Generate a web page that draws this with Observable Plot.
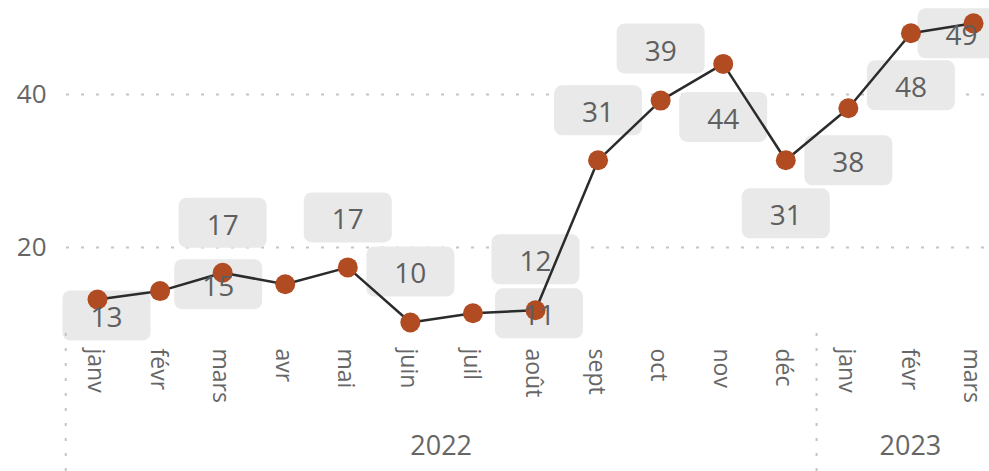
<!DOCTYPE html>
<html><head><meta charset="utf-8">
<script src="https://cdn.jsdelivr.net/npm/d3@7"></script>
<script src="https://cdn.jsdelivr.net/npm/@observablehq/plot@0.6"></script>
<style>html,body{margin:0;padding:0;background:#fff} svg{display:block}</style>
</head><body><div id="chart"></div>
<script>
// ---- data ----
const months = ["janv","févr","mars","avr","mai","juin","juil","août","sept","oct","nov","déc","janv","févr","mars"];
const years  = [2022,2022,2022,2022,2022,2022,2022,2022,2022,2022,2022,2022,2023,2023,2023];
const values = [13.2,14.3,16.7,15.2,17.4,10.2,11.4,11.8,31.4,39.2,44.0,31.4,38.2,48.0,49.3];
const yTicks = [20, 40];

const data = months.map((m, i) => ({i, month: m, year: years[i], value: values[i]}));

// Power BI "auto" label placement (pixel offset of the label box from its point); févr 2022 label hidden
const placement = {0:[9,16], 2:[0,-50], 3:[-67,0], 4:[0,-50], 5:[0,-51], 6:[66,0], 7:[0,-51],
  8:[0,-50], 9:[0,-52], 10:[0,53], 11:[0,53], 12:[0,52], 13:[0,52], 14:[-12,10]};

const W = 88, H = 50, R = 8;
const roundRect = {draw(ctx) {
  const x0=-W/2, y0=-H/2, x1=W/2, y1=H/2;
  ctx.moveTo(x0+R,y0); ctx.lineTo(x1-R,y0); ctx.arcTo(x1,y0,x1,y0+R,R);
  ctx.lineTo(x1,y1-R); ctx.arcTo(x1,y1,x1-R,y1,R);
  ctx.lineTo(x0+R,y1); ctx.arcTo(x0,y1,x0,y1-R,R);
  ctx.lineTo(x0,y0+R); ctx.arcTo(x0,y0,x0+R,y0,R); ctx.closePath();
}};

const labelData = data.filter(d => placement[d.i]);
const fmt = d3.format(".0f");
const boxMarks = labelData.map(d => Plot.dot([d], {x: "i", y: "value", r: 10, symbol: roundRect,
  fill: "#e9e9e9", stroke: null, dx: placement[d.i][0], dy: placement[d.i][1]}));
const textMarks = labelData.map(d => Plot.text([d], {x: "i", y: "value", text: d => fmt(d.value),
  fill: "#5f5f5f", fontSize: 28, dx: placement[d.i][0], dy: placement[d.i][1] + 3}));

const gray = "#666";
const plot = Plot.plot({
  width: 989, height: 471,
  marginLeft: 66, marginRight: 0, marginTop: 0, marginBottom: 131,
  style: {fontFamily: "'Open Sans', 'Noto Sans', sans-serif", background: "#fff", overflow: "visible"},
  x: {type: "linear", domain: [0, months.length - 1], range: [97, 973]},
  y: {domain: [20, 40], range: [247, 94]},
  marks: [
    Plot.ruleY(yTicks, {stroke: "#c4c4c4", strokeWidth: 2, strokeDasharray: "3,12"}),
    Plot.axisY(yTicks, {tickSize: 0, tickPadding: 20, fontSize: 26, fill: gray, label: null}),
    Plot.axisX(data.map(d => d.i), {tickSize: 0, tickPadding: 8, tickRotate: 90, fontSize: 23, fill: gray,
      dx: -2, tickFormat: i => months[i], label: null}),
    ...boxMarks,
    Plot.line(data, {x: "i", y: "value", stroke: "#2b2b2b", strokeWidth: 2.5}),
    Plot.dot(data, {x: "i", y: "value", r: 10, fill: "#b04b22", stroke: null}),
    ...textMarks
  ]
});

// year groups below the month labels, placed with Plot's x scale
const sx = plot.scale("x");
const svg = d3.select(plot.tagName === "svg" ? plot : plot.querySelector("svg"));
const groups = d3.groups(data, d => d.year);
const seps = [];
groups.forEach(([yr, arr]) => {
  const a = d3.min(arr, d => d.i), b = d3.max(arr, d => d.i);
  seps.push(a - 0.5);
  svg.append("text").attr("x", sx.apply((a + b) / 2)).attr("y", 448)
    .attr("text-anchor", "middle").attr("dominant-baseline", "middle")
    .attr("font-size", 27).attr("fill", gray).text(yr);
});
seps.forEach(s => {
  svg.append("line").attr("x1", sx.apply(s)).attr("x2", sx.apply(s)).attr("y1", 333).attr("y2", 471)
    .attr("stroke", "#c4c4c4").attr("stroke-width", 2).attr("stroke-dasharray", "3,12");
});

document.getElementById("chart").appendChild(plot);
</script></body></html>
